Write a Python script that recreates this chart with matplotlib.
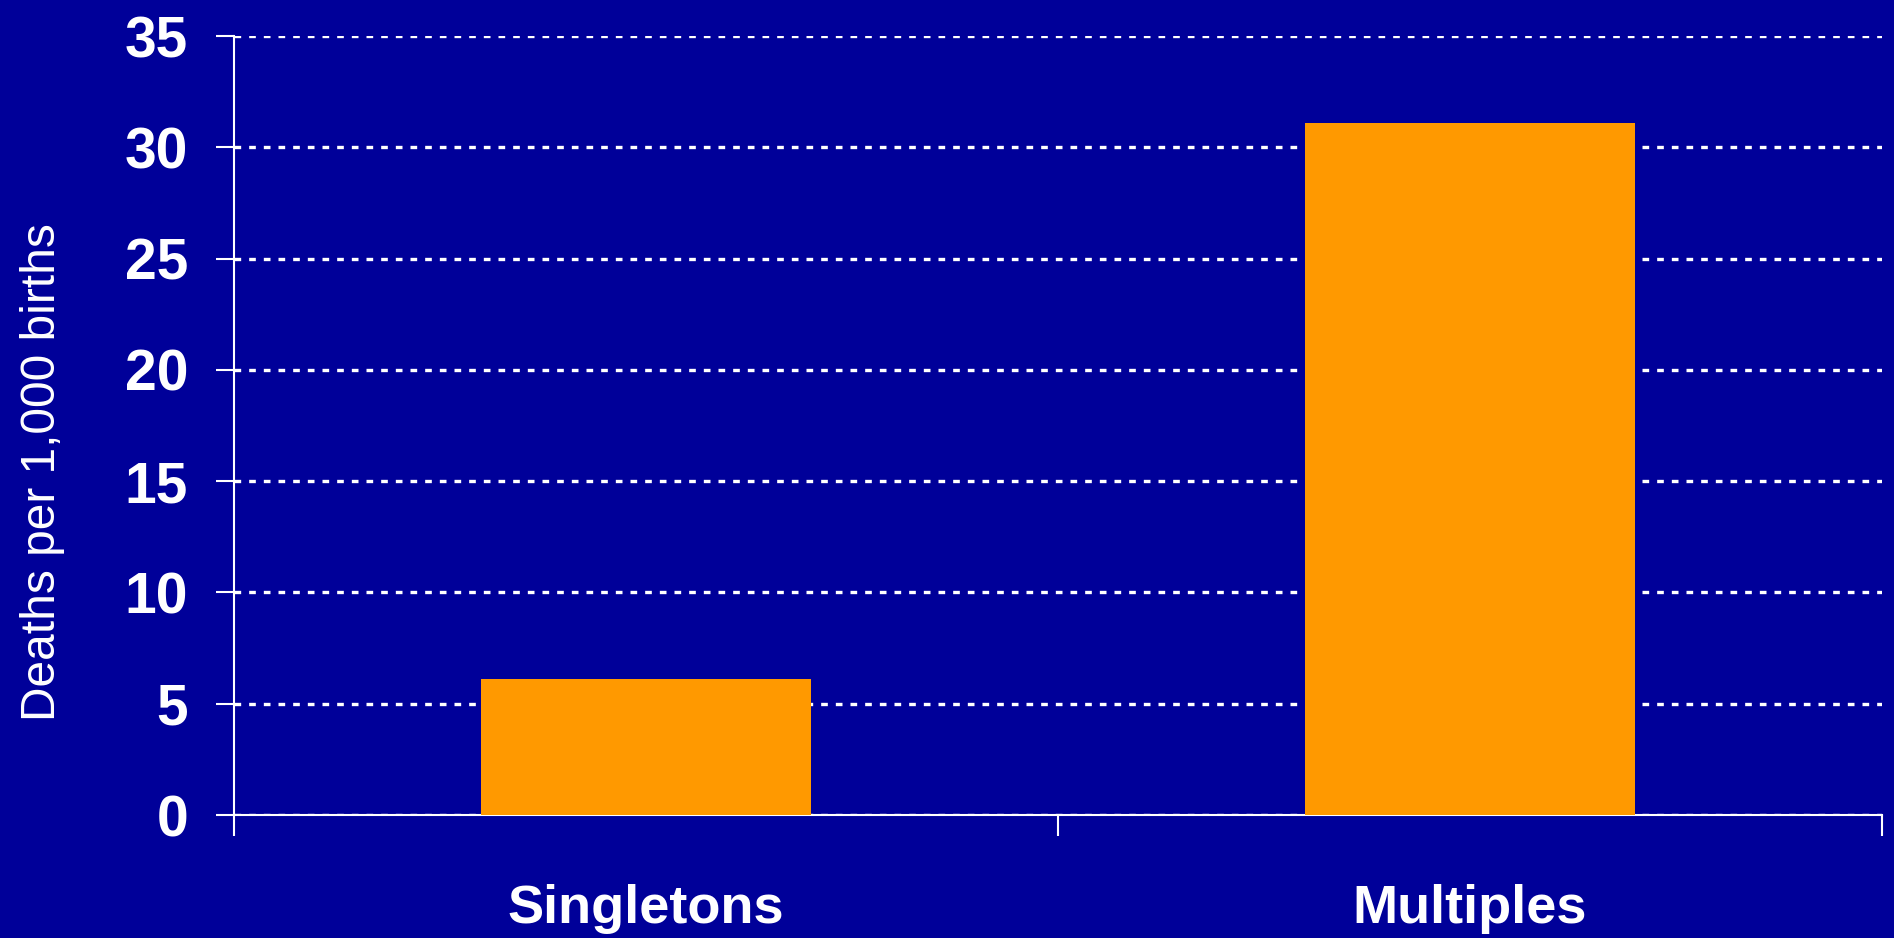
import matplotlib.pyplot as plt

# perinatal deaths per 1,000 births
categories = ['Singletons', 'Multiples']
deaths = [6.1, 31.1]
yticks = [0, 5, 10, 15, 20, 25, 30, 35]

bg = '#000099'
bar_color = '#FF9900'

plt.rcParams['font.family'] = ['Liberation Sans', 'DejaVu Sans']

fig = plt.figure(figsize=(18.94, 9.38), dpi=100, facecolor=bg)
ax = fig.add_axes([0.1235, 0.1311, 0.8702, 0.8305])
ax.set_facecolor(bg)

x = list(range(len(categories)))
ax.bar(x, deaths, width=0.4, color=bar_color, zorder=3)

ax.set_xlim(-0.5, 1.5)
ax.set_ylim(0, 35)
ax.set_yticks(yticks)
ax.set_yticklabels([str(v) for v in yticks], fontsize=41, fontweight='bold', color='white')

# category labels centred, tick marks between categories
ax.set_xticks(x)
ax.set_xticklabels(categories, fontsize=39, fontweight='bold', color='white')
ax.tick_params(axis='x', which='major', length=0, pad=50)
ax.set_xticks([-0.5, 0.5, 1.5], minor=True)
ax.tick_params(axis='x', which='minor', length=15, width=1.5, color='white', direction='out')
ax.tick_params(axis='y', length=13, width=1.5, color='white', pad=20)

# dotted horizontal grid lines
ax.yaxis.grid(True, color='white', linestyle=(0, (2, 2.4)), linewidth=2.4)
ax.set_axisbelow(True)

for side in ['top', 'right']:
    ax.spines[side].set_visible(False)
for side in ['left', 'bottom']:
    ax.spines[side].set_color('white')
    ax.spines[side].set_linewidth(1.5)

fig.text(0.0225, 0.497, 'Deaths per 1,000 births', rotation=90, fontsize=34.5,
         color='white', ha='center', va='center')

fig.savefig('out.png', dpi=100, facecolor=bg)
